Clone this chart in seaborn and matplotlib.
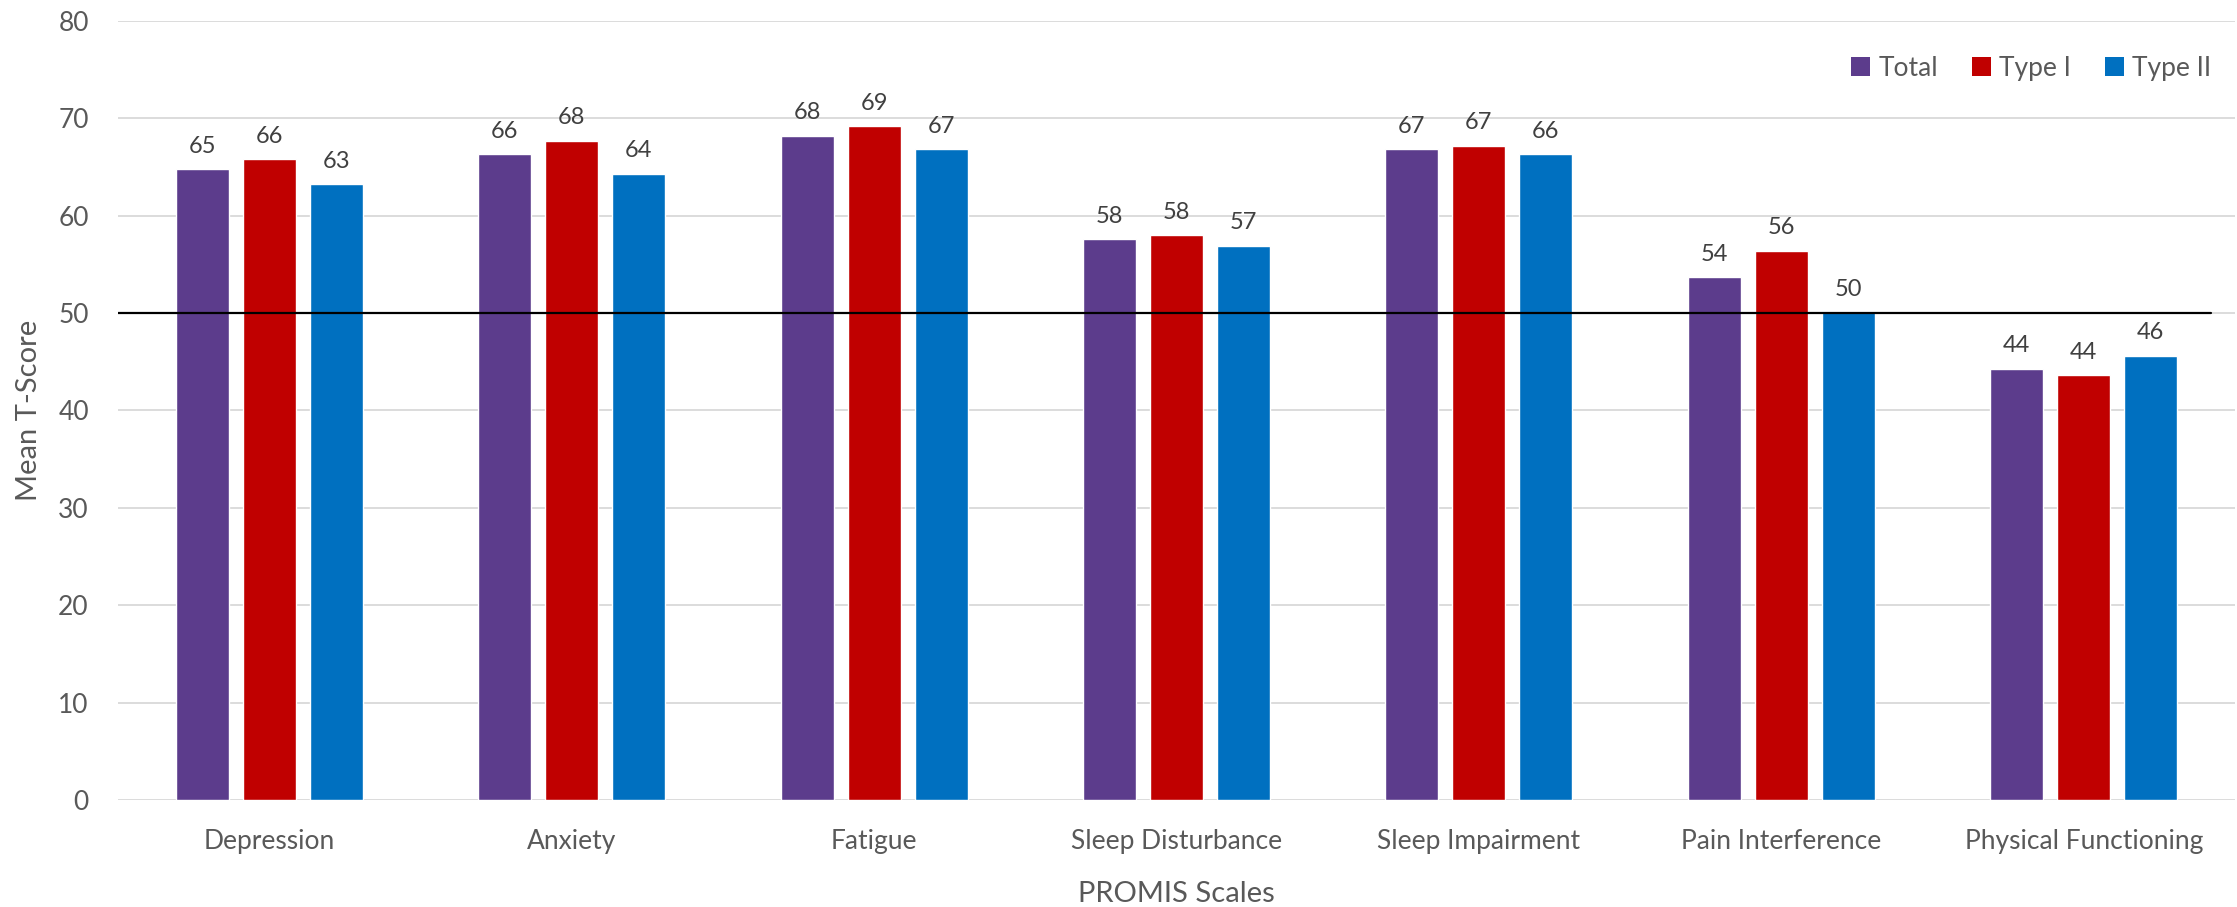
import matplotlib
matplotlib.use("Agg")
import matplotlib.pyplot as plt
import seaborn as sns
import pandas as pd
from matplotlib.patches import Patch

categories = ["Depression", "Anxiety", "Fatigue", "Sleep Disturbance",
              "Sleep Impairment", "Pain Interference", "Physical Functioning"]
series_names = ["Total", "Type I", "Type II"]
total_vals = [64.8, 66.3, 68.2, 57.6, 66.85, 53.7, 44.3]
type1_vals = [65.8, 67.7, 69.2, 58.0, 67.2, 56.4, 43.6]
type2_vals = [63.25, 64.3, 66.85, 56.9, 66.3, 50.1, 45.6]
reference_value = 50
y_ticks = [0, 10, 20, 30, 40, 50, 60, 70, 80]
colors = ["#5C3C8C", "#C00000", "#0070C0"]

rows = []
for name, vals in zip(series_names, [total_vals, type1_vals, type2_vals]):
    for c, v in zip(categories, vals):
        rows.append({"Scale": c, "Group": name, "Score": v})
df = pd.DataFrame(rows)

sns.set_theme(style="white")
plt.rcParams["font.family"] = ["Lato", "DejaVu Sans"]
text_color = "#595959"

fig = plt.figure(figsize=(22.37, 9.07), dpi=100)
ax = fig.add_axes([118 / 2237, 1 - 800 / 907, (2235 - 118) / 2237, 779 / 907])

sns.barplot(data=df, x="Scale", y="Score", hue="Group", order=categories,
            hue_order=series_names, palette=colors, width=0.665, gap=0.21,
            saturation=1, errorbar=None, ax=ax, legend=False)

for cont in ax.containers:
    ax.bar_label(cont, fmt="{:.0f}", padding=9, fontsize=17, color="#404040")

ax.set_ylim(0, 80)
ax.set_xlim(-0.5, 6.5)
ax.set_yticks(y_ticks)
ax.yaxis.grid(True, color="#D9D9D9", linewidth=1.3)
ax.set_axisbelow(True)
for s in ax.spines.values():
    s.set_visible(False)
ax.tick_params(axis="both", length=0, labelsize=19, labelcolor=text_color)
ax.tick_params(axis="y", pad=21)
ax.tick_params(axis="x", pad=21)

ax.plot([-0.5, 6.42], [reference_value, reference_value], color="black",
        linewidth=1.6, zorder=5)

ax.set_xlabel("PROMIS Scales", fontsize=21, color=text_color, labelpad=19)
ax.set_ylabel("Mean T-Score", fontsize=21, color=text_color, labelpad=12)

handles = [Patch(facecolor=c, edgecolor="none", label=n) for c, n in zip(colors, series_names)]
fig.legend(handles=handles, loc="center right", bbox_to_anchor=(0.9885, 0.925),
           ncol=3, frameon=False, fontsize=19, handlelength=0.72, handleheight=0.72,
           handletextpad=0.3, columnspacing=1.3, borderpad=0, borderaxespad=0,
           labelcolor=text_color)

fig.savefig("out.png", dpi=100)
